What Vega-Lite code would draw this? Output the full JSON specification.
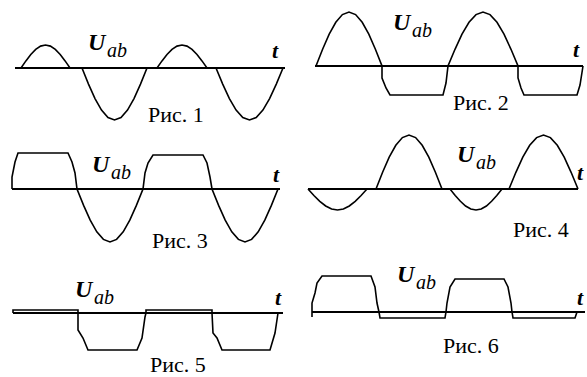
{
  "$schema": "https://vega.github.io/schema/vega-lite/v6.json",
  "width": 587,
  "height": 377,
  "padding": 0,
  "autosize": {"type": "none"},
  "background": "white",
  "config": {"view": {"stroke": null}, "text": {"font": "Times New Roman, Times, DejaVu Serif, serif"}},
  "datasets": {
    "waves": [
      {"p":1,"i":0,"x":21,"y":68},{"p":1,"i":1,"x":25.9,"y":60.9},{"p":1,"i":2,"x":30.8,"y":54.5},{"p":1,"i":3,"x":35.7,"y":49.4},{"p":1,"i":4,"x":40.6,"y":46.1},{"p":1,"i":5,"x":45.5,"y":45},{"p":1,"i":6,"x":50.4,"y":46.1},{"p":1,"i":7,"x":55.3,"y":49.4},{"p":1,"i":8,"x":60.2,"y":54.5},{"p":1,"i":9,"x":65.1,"y":60.9},{"p":1,"i":10,"x":70,"y":68},
      {"p":1,"i":11,"x":82,"y":68},{"p":1,"i":12,"x":88.5,"y":84.1},{"p":1,"i":13,"x":95,"y":98.6},{"p":1,"i":14,"x":101.5,"y":110.1},{"p":1,"i":15,"x":108,"y":117.5},{"p":1,"i":16,"x":114.5,"y":120},{"p":1,"i":17,"x":121,"y":117.5},{"p":1,"i":18,"x":127.5,"y":110.1},{"p":1,"i":19,"x":134,"y":98.6},{"p":1,"i":20,"x":140.5,"y":84.1},{"p":1,"i":21,"x":147,"y":68},
      {"p":1,"i":22,"x":157,"y":68},{"p":1,"i":23,"x":162,"y":60.9},{"p":1,"i":24,"x":167,"y":54.5},{"p":1,"i":25,"x":172,"y":49.4},{"p":1,"i":26,"x":177,"y":46.1},{"p":1,"i":27,"x":182,"y":45},{"p":1,"i":28,"x":187,"y":46.1},{"p":1,"i":29,"x":192,"y":49.4},{"p":1,"i":30,"x":197,"y":54.5},{"p":1,"i":31,"x":202,"y":60.9},{"p":1,"i":32,"x":207,"y":68},
      {"p":1,"i":33,"x":216,"y":68},{"p":1,"i":34,"x":222.7,"y":84.1},{"p":1,"i":35,"x":229.4,"y":98.6},{"p":1,"i":36,"x":236.1,"y":110.1},{"p":1,"i":37,"x":242.8,"y":117.5},{"p":1,"i":38,"x":249.5,"y":120},{"p":1,"i":39,"x":256.2,"y":117.5},{"p":1,"i":40,"x":262.9,"y":110.1},{"p":1,"i":41,"x":269.6,"y":98.6},{"p":1,"i":42,"x":276.3,"y":84.1},{"p":1,"i":43,"x":283,"y":68},

      {"p":2,"i":0,"x":316,"y":66},{"p":2,"i":1,"x":322.6,"y":49.3},{"p":2,"i":2,"x":329.2,"y":34.2},{"p":2,"i":3,"x":335.8,"y":22.3},{"p":2,"i":4,"x":342.4,"y":14.6},{"p":2,"i":5,"x":349,"y":12},{"p":2,"i":6,"x":355.6,"y":14.6},{"p":2,"i":7,"x":362.2,"y":22.3},{"p":2,"i":8,"x":368.8,"y":34.2},{"p":2,"i":9,"x":375.4,"y":49.3},{"p":2,"i":10,"x":382,"y":66},
      {"p":2,"i":11,"x":382,"y":78},{"p":2,"i":12,"x":386,"y":88},{"p":2,"i":13,"x":390,"y":95},{"p":2,"i":14,"x":443,"y":95},{"p":2,"i":15,"x":446,"y":83},{"p":2,"i":16,"x":448,"y":66},
      {"p":2,"i":17,"x":455,"y":49.3},{"p":2,"i":18,"x":462,"y":34.2},{"p":2,"i":19,"x":469,"y":22.3},{"p":2,"i":20,"x":476,"y":14.6},{"p":2,"i":21,"x":483,"y":12},{"p":2,"i":22,"x":490,"y":14.6},{"p":2,"i":23,"x":497,"y":22.3},{"p":2,"i":24,"x":504,"y":34.2},{"p":2,"i":25,"x":511,"y":49.3},{"p":2,"i":26,"x":518,"y":66},
      {"p":2,"i":27,"x":518,"y":78},{"p":2,"i":28,"x":521,"y":88},{"p":2,"i":29,"x":524,"y":95},{"p":2,"i":30,"x":577,"y":95},{"p":2,"i":31,"x":580,"y":85},{"p":2,"i":32,"x":583,"y":66},

      {"p":3,"i":0,"x":12,"y":189},{"p":3,"i":1,"x":12,"y":177},{"p":3,"i":2,"x":15,"y":162},{"p":3,"i":3,"x":18,"y":153},{"p":3,"i":4,"x":68,"y":153},{"p":3,"i":5,"x":72,"y":162},{"p":3,"i":6,"x":75,"y":173},{"p":3,"i":7,"x":77,"y":189},
      {"p":3,"i":8,"x":83.6,"y":205.4},{"p":3,"i":9,"x":90.2,"y":220.2},{"p":3,"i":10,"x":96.8,"y":231.9},{"p":3,"i":11,"x":103.4,"y":239.4},{"p":3,"i":12,"x":110,"y":242},{"p":3,"i":13,"x":116.6,"y":239.4},{"p":3,"i":14,"x":123.2,"y":231.9},{"p":3,"i":15,"x":129.8,"y":220.2},{"p":3,"i":16,"x":136.4,"y":205.4},{"p":3,"i":17,"x":143,"y":189},
      {"p":3,"i":18,"x":145,"y":173},{"p":3,"i":19,"x":148,"y":163},{"p":3,"i":20,"x":153,"y":155},{"p":3,"i":21,"x":203,"y":155},{"p":3,"i":22,"x":207,"y":163},{"p":3,"i":23,"x":210,"y":177},{"p":3,"i":24,"x":212,"y":189},
      {"p":3,"i":25,"x":218.6,"y":205.4},{"p":3,"i":26,"x":225.2,"y":220.2},{"p":3,"i":27,"x":231.8,"y":231.9},{"p":3,"i":28,"x":238.4,"y":239.4},{"p":3,"i":29,"x":245,"y":242},{"p":3,"i":30,"x":251.6,"y":239.4},{"p":3,"i":31,"x":258.2,"y":231.9},{"p":3,"i":32,"x":264.8,"y":220.2},{"p":3,"i":33,"x":271.4,"y":205.4},{"p":3,"i":34,"x":278,"y":189},

      {"p":4,"i":0,"x":308,"y":189},{"p":4,"i":1,"x":313.9,"y":195.5},{"p":4,"i":2,"x":319.8,"y":201.3},{"p":4,"i":3,"x":325.7,"y":206},{"p":4,"i":4,"x":331.6,"y":209},{"p":4,"i":5,"x":337.5,"y":210},{"p":4,"i":6,"x":343.4,"y":209},{"p":4,"i":7,"x":349.3,"y":206},{"p":4,"i":8,"x":355.2,"y":201.3},{"p":4,"i":9,"x":361.1,"y":195.5},{"p":4,"i":10,"x":367,"y":189},
      {"p":4,"i":11,"x":376,"y":189},{"p":4,"i":12,"x":382.6,"y":172.3},{"p":4,"i":13,"x":389.2,"y":157.2},{"p":4,"i":14,"x":395.8,"y":145.3},{"p":4,"i":15,"x":402.4,"y":137.6},{"p":4,"i":16,"x":409,"y":135},{"p":4,"i":17,"x":415.6,"y":137.6},{"p":4,"i":18,"x":422.2,"y":145.3},{"p":4,"i":19,"x":428.8,"y":157.2},{"p":4,"i":20,"x":435.4,"y":172.3},{"p":4,"i":21,"x":442,"y":189},
      {"p":4,"i":22,"x":450,"y":189},{"p":4,"i":23,"x":455.2,"y":195.5},{"p":4,"i":24,"x":460.4,"y":201.3},{"p":4,"i":25,"x":465.6,"y":206},{"p":4,"i":26,"x":470.8,"y":209},{"p":4,"i":27,"x":476,"y":210},{"p":4,"i":28,"x":481.2,"y":209},{"p":4,"i":29,"x":486.4,"y":206},{"p":4,"i":30,"x":491.6,"y":201.3},{"p":4,"i":31,"x":496.8,"y":195.5},{"p":4,"i":32,"x":502,"y":189},
      {"p":4,"i":33,"x":509,"y":189},{"p":4,"i":34,"x":515.9,"y":172.3},{"p":4,"i":35,"x":522.8,"y":157.2},{"p":4,"i":36,"x":529.7,"y":145.3},{"p":4,"i":37,"x":536.6,"y":137.6},{"p":4,"i":38,"x":543.5,"y":135},{"p":4,"i":39,"x":550.4,"y":137.6},{"p":4,"i":40,"x":557.3,"y":145.3},{"p":4,"i":41,"x":564.2,"y":157.2},{"p":4,"i":42,"x":571.1,"y":172.3},{"p":4,"i":43,"x":578,"y":189},

      {"p":5,"i":0,"x":13,"y":313},{"p":5,"i":1,"x":13,"y":310},{"p":5,"i":2,"x":78,"y":310},{"p":5,"i":3,"x":78,"y":330},{"p":5,"i":4,"x":83,"y":338},{"p":5,"i":5,"x":88,"y":350},{"p":5,"i":6,"x":137,"y":350},{"p":5,"i":7,"x":142,"y":338},{"p":5,"i":8,"x":145,"y":317},{"p":5,"i":9,"x":146,"y":313},{"p":5,"i":10,"x":146,"y":310},{"p":5,"i":11,"x":212,"y":310},{"p":5,"i":12,"x":212,"y":313},{"p":5,"i":13,"x":213,"y":333},{"p":5,"i":14,"x":217,"y":338},{"p":5,"i":15,"x":222,"y":350},{"p":5,"i":16,"x":270,"y":350},{"p":5,"i":17,"x":275,"y":333},{"p":5,"i":18,"x":278,"y":313},

      {"p":6,"i":0,"x":312,"y":317},{"p":6,"i":1,"x":312,"y":303},{"p":6,"i":2,"x":315,"y":293},{"p":6,"i":3,"x":317,"y":283},{"p":6,"i":4,"x":322,"y":276},{"p":6,"i":5,"x":371,"y":276},{"p":6,"i":6,"x":375,"y":287},{"p":6,"i":7,"x":377,"y":303},{"p":6,"i":8,"x":379,"y":312},{"p":6,"i":9,"x":380,"y":318},{"p":6,"i":10,"x":445,"y":318},{"p":6,"i":11,"x":446,"y":312},{"p":6,"i":12,"x":447,"y":303},{"p":6,"i":13,"x":450,"y":287},{"p":6,"i":14,"x":455,"y":279},{"p":6,"i":15,"x":504,"y":279},{"p":6,"i":16,"x":508,"y":287},{"p":6,"i":17,"x":511,"y":303},{"p":6,"i":18,"x":512,"y":312},{"p":6,"i":19,"x":513,"y":318},{"p":6,"i":20,"x":575,"y":318},{"p":6,"i":21,"x":577,"y":312}
    ],
    "axes": [
      {"p":1,"x1":15,"x2":285,"y":68},
      {"p":2,"x1":315,"x2":583,"y":66},
      {"p":3,"x1":12,"x2":280,"y":189},
      {"p":4,"x1":308,"x2":578,"y":189},
      {"p":5,"x1":13,"x2":283,"y":313},
      {"p":6,"x1":312,"x2":585,"y":312}
    ],
    "labels": [
      {"kind":"U","text":"U","x":88,"y":50},
      {"kind":"U","text":"U","x":393,"y":30},
      {"kind":"U","text":"U","x":92,"y":172},
      {"kind":"U","text":"U","x":457,"y":162},
      {"kind":"U","text":"U","x":75,"y":297},
      {"kind":"U","text":"U","x":397,"y":282},
      {"kind":"ab","text":"ab","x":107,"y":57},
      {"kind":"ab","text":"ab","x":412,"y":37},
      {"kind":"ab","text":"ab","x":111,"y":179},
      {"kind":"ab","text":"ab","x":476,"y":169},
      {"kind":"ab","text":"ab","x":94,"y":304},
      {"kind":"ab","text":"ab","x":416,"y":289},
      {"kind":"t","text":"t","x":272,"y":58},
      {"kind":"t","text":"t","x":573,"y":57},
      {"kind":"t","text":"t","x":273,"y":182},
      {"kind":"t","text":"t","x":577,"y":180},
      {"kind":"t","text":"t","x":275,"y":305},
      {"kind":"t","text":"t","x":577,"y":305},
      {"kind":"fig","text":"Рис. 1","x":148,"y":122},
      {"kind":"fig","text":"Рис. 2","x":453,"y":110},
      {"kind":"fig","text":"Рис. 3","x":152,"y":248},
      {"kind":"fig","text":"Рис. 4","x":513,"y":237},
      {"kind":"fig","text":"Рис. 5","x":150,"y":372},
      {"kind":"fig","text":"Рис. 6","x":443,"y":353}
    ]
  },
  "encoding": {
    "x": {"field": "x", "type": "quantitative", "axis": null, "scale": {"domain": [0, 587], "nice": false, "zero": false}},
    "y": {"field": "y", "type": "quantitative", "axis": null, "scale": {"domain": [0, 377], "nice": false, "zero": false, "reverse": true}}
  },
  "layer": [
    {
      "data": {"name": "axes"},
      "mark": {"type": "rule", "color": "black", "strokeWidth": 2},
      "encoding": {
        "x": {"field": "x1", "type": "quantitative", "axis": null, "scale": {"domain": [0, 587], "nice": false, "zero": false}},
        "x2": {"field": "x2"},
        "y": {"field": "y", "type": "quantitative", "axis": null, "scale": {"domain": [0, 377], "nice": false, "zero": false, "reverse": true}}
      }
    },
    {
      "data": {"name": "waves"},
      "mark": {"type": "line", "color": "black", "strokeWidth": 1.6, "strokeJoin": "miter"},
      "encoding": {
        "detail": {"field": "p", "type": "nominal"},
        "order": {"field": "i", "type": "quantitative"}
      }
    },
    {
      "data": {"name": "labels"},
      "transform": [{"filter": "datum.kind === 'U'"}],
      "mark": {"type": "text", "fontSize": 24, "fontWeight": "bold", "fontStyle": "italic", "align": "left", "baseline": "alphabetic", "color": "black"},
      "encoding": {"text": {"field": "text"}}
    },
    {
      "data": {"name": "labels"},
      "transform": [{"filter": "datum.kind === 'ab'"}],
      "mark": {"type": "text", "fontSize": 20, "fontStyle": "italic", "align": "left", "baseline": "alphabetic", "color": "black"},
      "encoding": {"text": {"field": "text"}}
    },
    {
      "data": {"name": "labels"},
      "transform": [{"filter": "datum.kind === 't'"}],
      "mark": {"type": "text", "fontSize": 22, "fontWeight": "bold", "fontStyle": "italic", "align": "left", "baseline": "alphabetic", "color": "black"},
      "encoding": {"text": {"field": "text"}}
    },
    {
      "data": {"name": "labels"},
      "transform": [{"filter": "datum.kind === 'fig'"}],
      "mark": {"type": "text", "fontSize": 22, "align": "left", "baseline": "alphabetic", "color": "black"},
      "encoding": {"text": {"field": "text"}}
    }
  ]
}
